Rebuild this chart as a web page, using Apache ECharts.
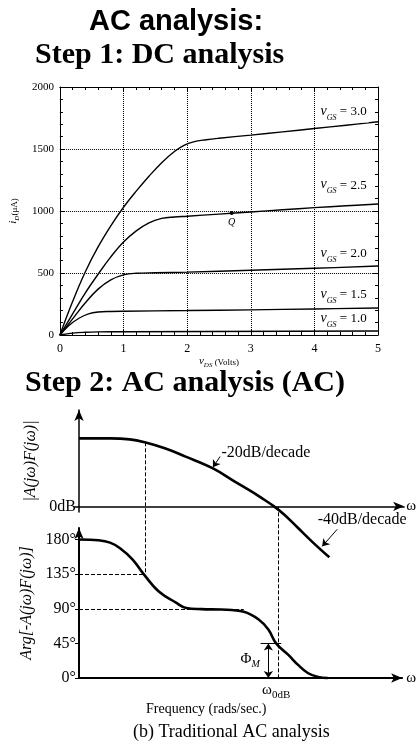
<!DOCTYPE html>
<html>
<head>
<meta charset="utf-8">
<script src="https://cdn.jsdelivr.net/npm/echarts@6.0.0/dist/echarts.min.js"></script>
<style>
html, body {margin: 0; padding: 0; background: #fff}
#chart {width: 417px; height: 744px}
</style>
</head>
<body>
<div id="chart"></div>
<script>
// ---- Step 1: DC curves, iD (uA) against vDS (V), one per vGS
const vgsNames = ["3.0", "2.5", "2.0", "1.5", "1.0"]
const idVgs30 = [[0,0],[0.2,270],[0.4,510],[0.6,710],[0.8,880],[1,1030],[1.2,1160],[1.4,1280],[1.6,1390],[1.8,1480],[1.95,1530],[2.1,1558],[2.3,1575],[2.5,1587],[3,1612],[3.5,1638],[4,1665],[4.5,1692],[5,1720]]
const idVgs25 = [[0,0],[0.2,170],[0.4,340],[0.6,490],[0.8,630],[1,750],[1.2,840],[1.4,905],[1.6,940],[1.8,952],[2,958],[2.5,975],[3,992],[3.5,1010],[4,1027],[4.5,1042],[5,1056]]
const idVgs20 = [[0,0],[0.2,130],[0.4,260],[0.6,370],[0.8,445],[1,485],[1.2,498],[1.5,502],[2,507],[3,522],[4,538],[5,556]]
const idVgs15 = [[0,0],[0.15,80],[0.3,135],[0.45,170],[0.6,185],[0.8,190],[1,192],[2,197],[3,203],[4,210],[5,218]]
const idVgs10 = [[0,0],[0.2,15],[0.4,22],[0.6,25],[1,26],[5,32]]
const qPoint = [2.7, 983]

// ---- Step 2: Bode plot, frequency in decades
const magW = [0, 0.48, 0.78, 1.01, 1.32, 1.63, 2.06, 2.39, 2.7, 2.85, 3.0, 3.15, 3.35, 3.6, 3.85]
const magDb = [60, 60, 59.1, 56.5, 51.2, 44.1, 33.5, 22.1, 11.5, 5.8, 0, -7, -18, -32, -45]
const phaseW = [0, 0.3, 0.48, 0.63, 0.83, 1.01, 1.24, 1.5, 1.66, 1.9, 2.2, 2.55, 2.78, 2.93, 3.05, 3.24, 3.39, 3.54, 3.7, 3.85]
const phaseDeg = [180, 179, 176, 169, 154, 134, 112, 98, 91, 89.5, 89, 86, 76, 63, 45, 30, 17, 6.5, 1.3, 0]
const phaseTicks = [0, 45, 90, 135, 180]
const poleW = 1.01
const w0dB = 3.05
const plateauEnd = 2.55
const phaseMargin = 45

const serif = "Liberation Serif"
const sans = "Liberation Sans"

// where the vGS labels sit (data coords of the DC plot)
const vgsLabelAt = [[4.46,1790],[4.46,1200],[4.46,645],[4.46,314],[4.46,121]]

// bode layout: magnitude grid and phase grid share x, an overlay spans both
const magTop = 410, magH = 102, magMin = -5, magMax = 85
const phTop = 528, phH = 150, phMax = 195
const pxPerDb = magH / (magMax - magMin)
const overlayH = phTop + phH - magTop
const overlayMin = magMax - overlayH / pxPerDb
// a phase value expressed in the overlay's dB units
function phaseOnOverlay(deg) {
	return overlayMin + deg * (phH / phMax) / pxPerDb
}

function vgsLabel(name) {
	return "{v|v}{s|GS}{t| = " + name + "}"
}

function dcLine(data, i) {
	return {
		type: "line",
		xAxisIndex: 0,
		yAxisIndex: 0,
		data: data,
		smooth: 0.4,
		symbol: "none",
		lineStyle: {color: "#000", width: 1.4},
		markPoint: {
			symbol: "rect",
			symbolSize: 0,
			data: [{coord: vgsLabelAt[i], value: vgsNames[i]}],
			label: {
				show: true,
				position: "inside",
				backgroundColor: "#fff",
				padding: [1, 2],
				formatter: p => vgsLabel(p.value),
				rich: {
					v: {fontFamily: serif, fontStyle: "italic", fontSize: 14, color: "#000", padding: [0, 0, 3, 0], verticalAlign: "bottom"},
					s: {fontFamily: serif, fontStyle: "italic", fontSize: 8, color: "#000", verticalAlign: "bottom"},
					t: {fontFamily: serif, fontSize: 13, color: "#000", padding: [0, 0, 3, 0], verticalAlign: "bottom"}
				}
			}
		}
	}
}

let dcSeries = [idVgs30, idVgs25, idVgs20, idVgs15, idVgs10].map(dcLine)
dcSeries[1].markPoint.data.push({
	coord: qPoint, value: "Q", symbol: "circle", symbolSize: 4,
	itemStyle: {color: "#000"},
	label: {show: true, position: "bottom", distance: 1, backgroundColor: "transparent", formatter: "Q",
		fontFamily: serif, fontStyle: "italic", fontSize: 10, color: "#000"}
})

let black = {color: "#000", width: 1}
let dcX = {
	type: "value", gridIndex: 0, min: 0, max: 5, interval: 1,
	axisLine: {lineStyle: black},
	axisTick: {inside: true, length: 5, lineStyle: black},
	minorTick: {show: true, splitNumber: 5, length: 3, lineStyle: black},
	splitLine: {show: true, lineStyle: {color: "#000", type: "dotted", width: 1}},
	axisLabel: {fontFamily: serif, fontSize: 12, color: "#000", margin: 8}
}
let dcY = {
	type: "value", gridIndex: 0, min: 0, max: 2000, interval: 500,
	axisLine: {lineStyle: black},
	axisTick: {inside: true, length: 5, lineStyle: black},
	minorTick: {show: true, splitNumber: 5, length: 3, lineStyle: black},
	splitLine: {show: true, lineStyle: {color: "#000", type: "dotted", width: 1}},
	axisLabel: {fontFamily: serif, fontSize: 11, color: "#000", margin: 6, formatter: v => String(v)}
}

let magData = magW.map((w, i) => [w, magDb[i]])
let phaseData = phaseW.map((w, i) => [w, phaseDeg[i]])
let poleDb = magDb[magW.indexOf(poleW)]
let dashed = {type: "dashed", color: "#000", width: 1}
let thin = {type: "solid", color: "#000", width: 1}

let bodeText = {fontFamily: serif, fontSize: 16, color: "#000"}

let option = {
	animation: false,
	backgroundColor: "#fff",
	title: [
		{text: "AC analysis:", left: 84, top: 2, textStyle: {fontFamily: sans, fontWeight: "bold", fontSize: 29, color: "#000"}},
		{text: "Step 1: DC analysis", left: 30, top: 35, textStyle: {fontFamily: serif, fontWeight: "bold", fontSize: 30, color: "#000"}},
		{text: "Step 2: AC analysis (AC)", left: 20, top: 363, textStyle: {fontFamily: serif, fontWeight: "bold", fontSize: 30, color: "#000"}},
		{text: "Frequency (rads/sec.)", left: 141, top: 697, textStyle: {fontFamily: serif, fontWeight: "normal", fontSize: 14, color: "#000"}},
		{text: "(b) Traditional AC analysis", left: 128, top: 718, textStyle: {fontFamily: serif, fontWeight: "normal", fontSize: 18, color: "#000"}}
	],
	grid: [
		{left: 55, top: 87, width: 323, height: 248},
		{left: 79, top: magTop, width: 326, height: magH},
		{left: 79, top: phTop, width: 326, height: phH},
		{left: 79, top: magTop, width: 326, height: overlayH}
	],
	xAxis: [
		Object.assign({}, dcX, {
			position: "bottom",
			name: "{v|v}{s|DS}{t| (Volts)}", nameLocation: "middle", nameGap: 14,
			nameTextStyle: {rich: {
				v: {fontFamily: serif, fontStyle: "italic", fontSize: 11, color: "#000", padding: [0, 0, 2, 0], verticalAlign: "bottom"},
				s: {fontFamily: serif, fontStyle: "italic", fontSize: 7, color: "#000", verticalAlign: "bottom"},
				t: {fontFamily: serif, fontSize: 9, color: "#000", padding: [0, 0, 2, 0], verticalAlign: "bottom"}
			}}
		}),
		Object.assign({}, dcX, {position: "top", axisLine: {onZero: false, lineStyle: black}, axisLabel: {show: false}, splitLine: {show: false}}),
		{
			type: "value", gridIndex: 1, min: 0, max: 5,
			axisLine: {onZero: true, symbol: ["none", "arrow"], symbolSize: [7, 11], lineStyle: {color: "#000", width: 1.5}},
			axisTick: {show: false}, axisLabel: {show: false}, splitLine: {show: false},
			name: "ω", nameLocation: "end", nameGap: 2, nameTextStyle: {fontFamily: serif, fontSize: 15, color: "#000"}
		},
		{
			type: "value", gridIndex: 2, min: 0, max: 5,
			axisLine: {symbol: ["none", "arrow"], symbolSize: [7, 11], lineStyle: {color: "#000", width: 2}},
			axisTick: {show: false}, splitLine: {show: false},
			axisLabel: {
				customValues: [w0dB], margin: 5,
				formatter: () => "{w|ω}{s|0dB}",
				rich: {
					w: {fontFamily: serif, fontSize: 15, color: "#000", padding: [0, 0, 3, 0], verticalAlign: "bottom"},
					s: {fontFamily: serif, fontSize: 11, color: "#000", verticalAlign: "bottom"}
				}
			},
			name: "ω", nameLocation: "end", nameGap: 4, nameTextStyle: {fontFamily: serif, fontSize: 15, color: "#000"}
		},
		{type: "value", gridIndex: 3, min: 0, max: 5, show: false}
	],
	yAxis: [
		Object.assign({}, dcY, {
			position: "left",
			name: "{i|i}{s|D}{t|(μA)}", nameLocation: "middle", nameGap: 33, nameRotate: 90,
			nameTextStyle: {rich: {
				i: {fontFamily: serif, fontStyle: "italic", fontSize: 11, color: "#000", padding: [0, 0, 2, 0], verticalAlign: "bottom"},
				s: {fontFamily: serif, fontStyle: "italic", fontSize: 7, color: "#000", verticalAlign: "bottom"},
				t: {fontFamily: serif, fontSize: 9, color: "#000", padding: [0, 0, 2, 0], verticalAlign: "bottom"}
			}}
		}),
		Object.assign({}, dcY, {position: "right", axisLine: {onZero: false, lineStyle: black}, axisLabel: {show: false}, splitLine: {show: false}}),
		{
			type: "value", gridIndex: 1, min: magMin, max: magMax,
			axisLine: {symbol: ["none", "arrow"], symbolSize: [7, 11], lineStyle: {color: "#000", width: 1.5}},
			axisTick: {show: true, customValues: [0], length: 5, lineStyle: {color: "#000", width: 1.5}},
			axisLabel: {customValues: [0], formatter: () => "0dB", margin: 3, fontFamily: serif, fontSize: 16, color: "#000"},
			splitLine: {show: false},
			name: "|A(jω)F(jω)|", nameLocation: "middle", nameGap: 38, nameRotate: 90,
			nameTextStyle: {fontFamily: serif, fontStyle: "italic", fontSize: 16, color: "#000"}
		},
		{
			type: "value", gridIndex: 2, min: 0, max: phMax,
			axisLine: {symbol: ["none", "arrow"], symbolSize: [7, 11], lineStyle: {color: "#000", width: 2}},
			axisTick: {show: true, customValues: phaseTicks, length: 4, lineStyle: {color: "#000", width: 1}},
			axisLabel: {customValues: phaseTicks, formatter: v => v + "°", margin: 3, fontFamily: serif, fontSize: 16, color: "#000"},
			splitLine: {show: false},
			name: "Arg[-A(jω)F(jω)]", nameLocation: "middle", nameGap: 38, nameRotate: 90,
			nameTextStyle: {fontFamily: serif, fontStyle: "italic", fontSize: 16, color: "#000"}
		},
		{type: "value", gridIndex: 3, min: overlayMin, max: magMax, show: false}
	],
	series: dcSeries.concat([
		{
			type: "line", xAxisIndex: 2, yAxisIndex: 2,
			data: magData, smooth: 0.4, symbol: "none", clip: false,
			lineStyle: {color: "#000", width: 2.6},
			markLine: {
				silent: true, symbol: ["none", "arrow"], symbolSize: 7,
				label: {show: false}, lineStyle: thin,
				data: [
					[{coord: [2.17, 44]}, {coord: [2.06, 34.4]}]
				]
			},
			markPoint: {
				symbol: "rect", symbolSize: 0,
				label: {show: true, position: "right", distance: 0, formatter: p => p.name, ...bodeText},
				data: [
					{name: "-20dB/decade", coord: [2.19, 47.5]}
				]
			}
		},
		{
			type: "line", xAxisIndex: 3, yAxisIndex: 3,
			data: phaseData, smooth: 0.4, symbol: "none", clip: false,
			lineStyle: {color: "#000", width: 2.6},
			markLine: {
				silent: true, symbol: ["none", "none"], symbolSize: 7,
				label: {show: false}, lineStyle: dashed,
				data: [
					[{coord: [0, 135]}, {coord: [poleW, 135]}],
					[{coord: [0, 90]}, {coord: [plateauEnd, 90]}],
					[{coord: [2.93, phaseMargin], symbol: "arrow", lineStyle: thin}, {coord: [2.93, 0], symbol: "arrow"}],
					[{coord: [2.81, phaseMargin], lineStyle: thin}, {coord: [3.13, phaseMargin]}]
				]
			},
			markPoint: {
				symbol: "rect", symbolSize: 0,
				label: {
					show: true, position: "inside",
					formatter: () => "{p|Φ}{s|M}",
					rich: {
						p: {fontFamily: serif, fontSize: 15, color: "#000", padding: [0, 0, 3, 0], verticalAlign: "bottom"},
						s: {fontFamily: serif, fontStyle: "italic", fontSize: 10, color: "#000", verticalAlign: "bottom"}
					}
				},
				data: [{name: "PM", coord: [2.65, 23]}]
			}
		},
		{
			// annotations that cross from the magnitude plot into the phase plot
			type: "line", xAxisIndex: 4, yAxisIndex: 4, data: [],
			markLine: {
				silent: true, symbol: ["none", "none"], symbolSize: 7,
				label: {show: false}, lineStyle: dashed,
				data: [
					[{coord: [poleW, poleDb]}, {coord: [poleW, phaseOnOverlay(135)]}],
					[{coord: [w0dB, 0]}, {coord: [w0dB, phaseOnOverlay(0)]}],
					[{coord: [3.96, -20.3], symbol: "none", lineStyle: thin}, {coord: [3.73, -35.3], symbol: "arrow"}]
				]
			},
			markPoint: {
				symbol: "rect", symbolSize: 0,
				label: {show: true, position: "right", distance: 0, formatter: p => p.name, ...bodeText},
				data: [
					{name: "-40dB/decade", coord: [3.66, -11.5]}
				]
			}
		}
	])
}

let chart = echarts.init(document.getElementById("chart"))
chart.setOption(option)
</script>
</body>
</html>
